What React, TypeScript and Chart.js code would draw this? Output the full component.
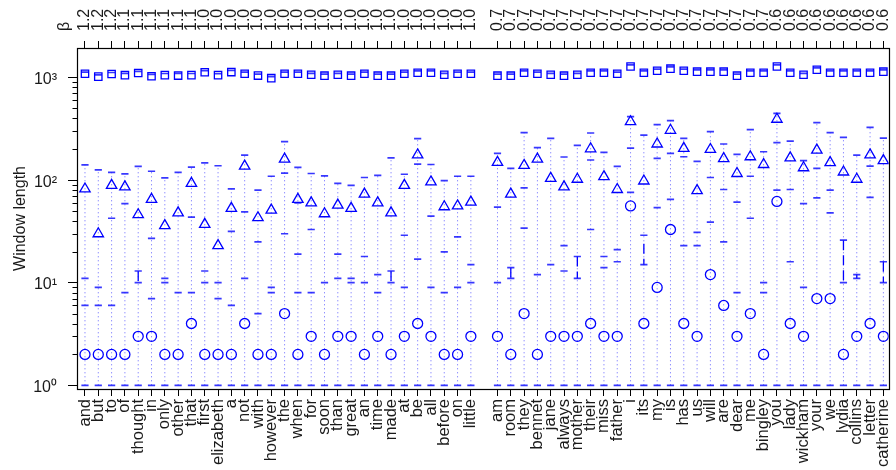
import React, { useEffect, useRef } from 'react';
import { Chart, registerables } from 'chart.js';

Chart.register(...registerables);

// ---------- data ----------
const wordsLeft = ['and', 'but', 'to', 'of', 'thought', 'in', 'only', 'other', 'that', 'first', 'elizabeth', 'a', 'not', 'with', 'however', 'the', 'when', 'for', 'soon', 'than', 'great', 'an', 'time', 'made', 'at', 'be', 'all', 'before', 'on', 'little'];
const wordsRight = ['am', 'room', 'they', 'bennet', 'jane', 'always', 'mother', 'their', 'miss', 'father', 'i', 'its', 'my', 'is', 'has', 'us', 'will', 'are', 'dear', 'me', 'bingley', 'you', 'lady', 'wickham', 'your', 'we', 'lydia', 'collins', 'letter', 'catherine'];

const betaLeft = ['1.2', '1.2', '1.2', '1.1', '1.1', '1.1', '1.1', '1.1', '1.1', '1.0', '1.0', '1.0', '1.0', '1.0', '1.0', '1.0', '1.0', '1.0', '1.0', '1.0', '1.0', '1.0', '1.0', '1.0', '1.0', '1.0', '1.0', '1.0', '1.0', '1.0'];
const betaRight = ['0.7', '0.7', '0.7', '0.7', '0.7', '0.7', '0.7', '0.7', '0.7', '0.7', '0.7', '0.7', '0.7', '0.7', '0.7', '0.7', '0.7', '0.7', '0.7', '0.7', '0.7', '0.6', '0.6', '0.6', '0.6', '0.6', '0.6', '0.6', '0.6', '0.6'];

// squares (near 10^3)
const squareLeft = [1089, 1020, 1082, 1055, 1107, 1030, 1055, 1045, 1055, 1125, 1055, 1130, 1089, 1045, 985, 1089, 1089, 1064, 1042, 1064, 1042, 1089, 1042, 1042, 1089, 1114, 1114, 1064, 1089, 1089];
const squareRight = [1042, 1042, 1114, 1089, 1064, 1042, 1064, 1114, 1114, 1089, 1280, 1114, 1164, 1220, 1164, 1140, 1140, 1140, 1042, 1114, 1114, 1280, 1114, 1064, 1190, 1114, 1114, 1114, 1114, 1140];
// dash inside each square
const maxLeft = [1130, 1060, 1120, 1100, 1150, 1075, 1095, 1100, 1095, 1170, 1090, 1175, 1130, 1080, 1020, 1130, 1130, 1100, 1080, 1100, 1080, 1130, 1080, 1080, 1130, 1160, 1160, 1100, 1130, 1130];
const maxRight = [1080, 1080, 1160, 1130, 1100, 1080, 1100, 1160, 1160, 1130, 1330, 1160, 1210, 1270, 1210, 1185, 1185, 1185, 1080, 1160, 1160, 1330, 1160, 1100, 1240, 1160, 1160, 1160, 1160, 1185];
// triangles
const meanLeft = [82, 30, 89, 86, 46, 65, 36, 48, 93, 37, 23, 53, 137, 43, 51, 160, 65, 60, 47, 57, 53, 73, 60, 48, 89, 176, 96, 55, 56, 61];
const meanRight = [149, 73, 139, 160, 104, 86, 102, 202, 108, 81, 371, 98, 225, 306, 204, 79, 199, 162, 116, 169, 142, 392, 165, 132, 196, 148, 120, 102, 176, 155];
// circles
const medianLeft = [2, 2, 2, 2, 3, 3, 2, 2, 4, 2, 2, 2, 4, 2, 2, 5, 2, 3, 2, 3, 3, 2, 3, 2, 3, 4, 3, 2, 2, 3];
const medianRight = [3, 2, 5, 2, 3, 3, 3, 4, 3, 3, 56, 4, 9, 33, 4, 3, 12, 6, 3, 5, 2, 62, 4, 3, 7, 7, 2, 3, 4, 3];
// top of dotted whisker
const topLeft = [141, 126, 119, 115, 136, 122, 105, 119, 134, 147, 138, 82, 175, 80, 109, 237, 133, 116, 110, 93, 89, 106, 111, 165, 114, 254, 142, 99, 109, 109];
const topRight = [182, 130, 290, 207, 255, 168, 218, 288, 186, 136, 416, 275, 347, 380, 255, 152, 297, 225, 178, 310, 189, 448, 240, 155, 363, 290, 261, 175, 327, 257];
// other dashes
const dash2Left = [11, 9, 42.5, 59, 13, 27, 11, 8, 43.5, 13, 10, 31.7, 49, 25, 9, 117, 60, 33, 10, 19, 11, 18, 12, 13, 29, 143, 44.5, 20, 28, 15];
const dash2Right = [54.5, 14, 84, 12, 15, 23, 18, 157, 18, 21, 205, 29, 163, 182, 169, 31, 106, 81, 61, 109, 10, 232, 81, 59, 130, 80, 26, 12, 137, 16];
const dash3Left = [6, 6, 6, 8, 10, 7, 10, null, 8, 10, 7, 6, 11, 5, 8, 30, 19, 8, null, 11, 10, 10, 8, 10, 9, 17, 9, 8, 9, 10];
const dash3Right = [10, 11, 34, null, null, 13, 11, 33, 14, 16, 76, 15, 54, 65, 23, 23, 39, 25, 8, 42.5, 8, 80, 16, 9, 67, 48, 10, 11, 68, 10];
const dash4Left = [null, null, null, null, null, null, null, null, null, null, null, null, null, null, null, null, 8, null, null, null, null, null, null, null, null, null, null, null, null, null];
const dash4Right = [null, null, null, null, null, null, null, null, null, null, null, null, null, null, null, null, null, null, null, null, null, null, null, null, null, null, null, null, null, null];
const minLeft = [1, 1, 1, 1, 1, 1, 1, 1, 1, 1, 1, 1, 1, 1, 1, 1, 1, 1, 1, 1, 1, 1, 1, 1, 1, 1, 1, 1, 1, 1];
const minRight = [1, 1, 1, 1, 1, 1, 1, 1, 1, 1, 1, 1, 1, 1, 1, 1, 1, 1, 1, 1, 1, 1, 1, 1, 1, 1, 1, 1, 1, 1];
// solid / dashed range segments
const segWords = ['thought', 'made', 'room', 'mother', 'its', 'lydia', 'collins', 'catherine'];
const segHigh = [13, 13, 14, 18, 24, 26, 12, 16];
const segLow = [10, 10, 11, 11, 15, 10, 11, 10];

const yTickValues = [1, 10, 100, 1000];
const yTickLabels = ['10⁰', '10¹', '10²', '10³'];
const yMinorValues = [2, 3, 4, 5, 6, 7, 8, 9, 20, 30, 40, 50, 60, 70, 80, 90, 200, 300, 400, 500, 600, 700, 800, 900];
const topTitle = 'β';
const yTitle = 'Window length';

// ---------- helpers ----------
const words = [...wordsLeft, ...wordsRight];
const betas = [...betaLeft, ...betaRight];
const xOf = (k: number) => (k < wordsLeft.length ? k : k + 1);
const slots = words.map((_, k) => xOf(k));
const labelAt = (arr: string[]) => (v: number) => {
  const k = slots.indexOf(v);
  return k >= 0 ? arr[k] : '';
};

const FONT = 'Liberation Sans, Arial, sans-serif';
const TEXT = '#1a1a1a';
const BLUE = '#0000ff';

export default function App() {
  const ref = useRef<HTMLCanvasElement>(null);

  useEffect(() => {
    const prev = document.body.style.margin;
    document.body.style.margin = '0';
    const canvas = ref.current!;

    const square = [...squareLeft, ...squareRight];
    const maxv = [...maxLeft, ...maxRight];
    const mean = [...meanLeft, ...meanRight];
    const median = [...medianLeft, ...medianRight];
    const top = [...topLeft, ...topRight];
    const d2 = [...dash2Left, ...dash2Right];
    const d3 = [...dash3Left, ...dash3Right];
    const d4 = [...dash4Left, ...dash4Right];
    const mins = [...minLeft, ...minRight];

    const datasets: any[] = [];
    // dotted whiskers
    words.forEach((_, k) => {
      datasets.push({
        showLine: true,
        data: [{ x: xOf(k), y: mins[k] }, { x: xOf(k), y: top[k] }],
        borderColor: 'rgba(50,50,255,0.75)',
        borderWidth: 1,
        borderDash: [1, 3],
        pointRadius: 0,
        order: 5,
      });
    });
    // range segments
    segWords.forEach((w, s) => {
      const k = words.indexOf(w);
      datasets.push({
        showLine: true,
        data: [{ x: xOf(k), y: segHigh[s] }, { x: xOf(k), y: segLow[s] }],
        borderColor: BLUE,
        borderWidth: 1.3,
        borderDash: [10, 5],
        pointRadius: 0,
        order: 4,
      });
    });
    // dashes
    const dashPts: any[] = [];
    words.forEach((_, k) => {
      [mins[k], top[k], d2[k], d3[k], d4[k], maxv[k]].forEach((v) => {
        if (v != null) dashPts.push({ x: xOf(k), y: v });
      });
    });
    datasets.push({
      data: dashPts,
      pointStyle: 'line',
      pointRadius: 3.6,
      pointBorderColor: 'rgba(20,20,255,0.85)',
      pointBorderWidth: 1.7,
      order: 3,
    });
    const marker = (vals: number[], style: string, r: number) => ({
      data: vals.map((v, k) => ({ x: xOf(k), y: v })),
      pointStyle: style,
      pointRadius: r,
      pointBorderColor: BLUE,
      pointBackgroundColor: 'rgba(0,0,0,0)',
      pointBorderWidth: 1.3,
      order: 1,
    });
    datasets.push(marker(mean, 'triangle', 6));
    datasets.push(marker(median, 'circle', 5));
    datasets.push(marker(square, 'rect', 5.2));

    const framePlugin = {
      id: 'frame',
      afterDraw(chart: any) {
        const { ctx, chartArea, scales } = chart;
        const l = Math.round(chartArea.left), r = Math.round(chartArea.right);
        const t = Math.round(chartArea.top), b = Math.round(chartArea.bottom);
        ctx.save();
        ctx.strokeStyle = '#000';
        ctx.lineWidth = 1.2;
        ctx.strokeRect(l + 0.5, t + 0.5, r - l, b - t);
        // minor y ticks
        ctx.lineWidth = 1;
        ctx.beginPath();
        yMinorValues.forEach((v) => {
          const py = Math.round(scales.y.getPixelForValue(v)) + 0.5;
          ctx.moveTo(l - 4.5, py);
          ctx.lineTo(l + 0.5, py);
        });
        ctx.stroke();
        // beta title on the top axis
        ctx.fillStyle = TEXT;
        ctx.font = `16px ${FONT}`;
        ctx.translate(65, 31);
        ctx.rotate(-Math.PI / 2);
        ctx.textAlign = 'left';
        ctx.textBaseline = 'middle';
        ctx.fillText(topTitle, 0, 0);
        ctx.restore();
      },
    };

    const xCommon = (pos: 'top' | 'bottom', labels: string[], pad: number, h: number, off: number, size: number) => ({
      type: 'linear',
      position: pos,
      min: -0.6,
      max: 60.4,
      afterBuildTicks: (s: any) => {
        s.ticks = slots.map((v) => ({ value: v }));
      },
      afterFit: (s: any) => {
        s.height = h;
        s.paddingLeft = 0;
        s.paddingRight = 0;
      },
      ticks: {
        autoSkip: false,
        minRotation: 90,
        maxRotation: 90,
        padding: pad,
        labelOffset: off,
        color: TEXT,
        font: { family: FONT, size },
        callback: labelAt(labels),
      },
      grid: { drawOnChartArea: false, tickLength: 7, tickColor: '#000', color: '#000', tickWidth: 1 },
      border: { display: false },
    });

    const chart = new Chart(canvas, {
      type: 'scatter',
      data: { datasets },
      options: {
        animation: false,
        responsive: false,
        events: [],
        layout: { padding: { left: 0, right: 3.5, top: 0, bottom: 0 } },
        plugins: { legend: { display: false }, tooltip: { enabled: false } },
        scales: {
          x: xCommon('bottom', words, 3, 81, 0, 16.5) as any,
          x2: xCommon('top', betas, 10, 48, 19.2, 16) as any,
          y: {
            type: 'logarithmic',
            min: 0.92,
            max: 1940,
            afterBuildTicks: (s: any) => {
              s.ticks = yTickValues.map((v) => ({ value: v }));
            },
            afterFit: (s: any) => {
              s.width = 77;
              s.paddingTop = 0;
              s.paddingBottom = 0;
            },
            ticks: {
              autoSkip: false,
              padding: 11,
              labelOffset: 2,
              color: TEXT,
              font: { family: FONT, size: 16 },
              callback: (v: any) => {
                const i = yTickValues.indexOf(Number(v));
                return i >= 0 ? yTickLabels[i] : '';
              },
            },
            grid: { drawOnChartArea: false, tickLength: 9, tickColor: '#000', color: '#000' },
            border: { display: false },
            title: {
              display: true,
              text: yTitle,
              color: TEXT,
              font: { family: FONT, size: 16 },
              padding: { top: 11, bottom: 0 },
            },
          } as any,
        },
      },
      plugins: [framePlugin],
    } as any);

    return () => {
      chart.destroy();
      document.body.style.margin = prev;
    };
  }, []);

  return (
    <div style={{ position: 'fixed', left: 0, top: 0, width: 896, height: 470 }}>
      <canvas ref={ref} width={896} height={470} style={{ display: 'block' }} />
    </div>
  );
}
